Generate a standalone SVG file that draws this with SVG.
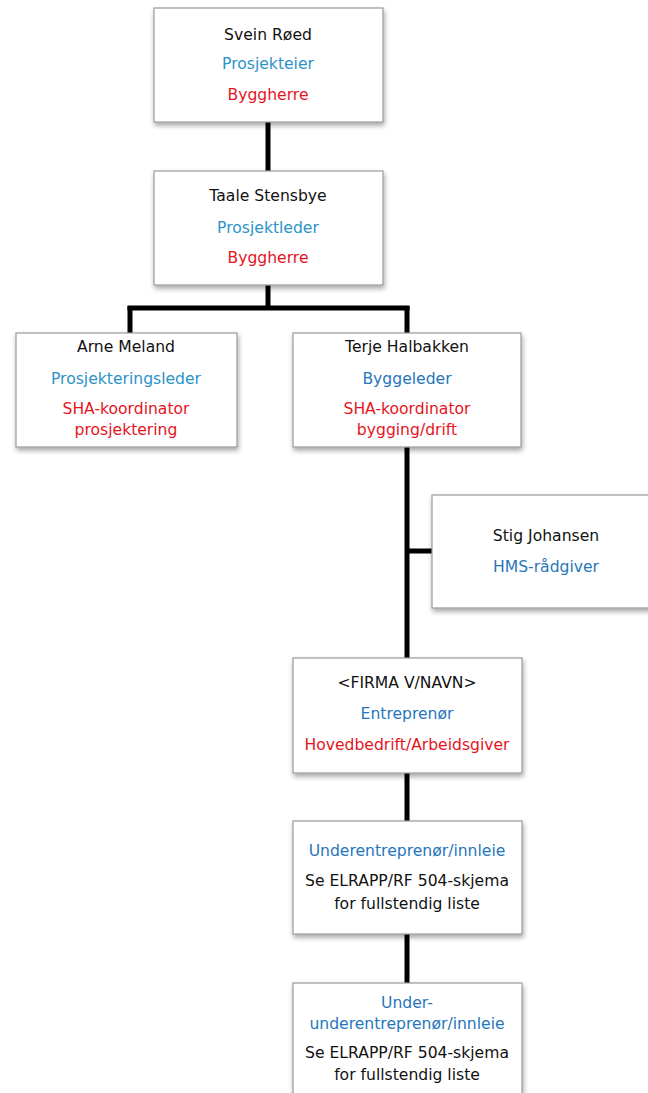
<svg xmlns="http://www.w3.org/2000/svg" width="648" height="1093" viewBox="0 0 648 1093">
<defs>
<filter id="sh" x="-10%" y="-10%" width="130%" height="130%">
<feDropShadow dx="1" dy="3" stdDeviation="2.5" flood-color="#000" flood-opacity="0.35"/>
</filter>
<style>
.box{fill:#fff;stroke:#9a9a9a;stroke-width:1.2;filter:url(#sh)}
text{font-family:"DejaVu Sans","Noto Sans",sans-serif;font-size:15.6px;text-anchor:middle}
.k{fill:#111}
.b1{fill:#2b93c6}
.b2{fill:#2676bb}
.r{fill:#e5141d}
.ln{stroke:#000;stroke-width:5;fill:none;stroke-linecap:butt}
</style>
</defs>
<rect width="648" height="1093" fill="#fff"/>
<g id="connectors">
<path class="ln" d="M268 122V171"/>
<path class="ln" d="M268 285V308"/>
<path class="ln" d="M127.5 308H409.5"/>
<path class="ln" d="M130 306V333"/>
<path class="ln" d="M407 306V333"/>
<path class="ln" d="M407 447V658"/>
<path class="ln" d="M407 551H432"/>
<path class="ln" d="M407 773V821"/>
<path class="ln" d="M407 934V983"/>
</g>
<g id="svein">
<rect class="box" x="154" y="8" width="229" height="114"/>
<text class="k" x="268" y="40">Svein Røed</text>
<text class="b1" x="268" y="69">Prosjekteier</text>
<text class="r" x="268" y="100">Byggherre</text>
</g>
<g id="taale">
<rect class="box" x="154" y="171" width="229" height="114"/>
<text class="k" x="268" y="201">Taale Stensbye</text>
<text class="b1" x="268" y="233">Prosjektleder</text>
<text class="r" x="268" y="263">Byggherre</text>
</g>
<g id="arne">
<rect class="box" x="16" y="333" width="221" height="114"/>
<text class="k" x="126" y="352">Arne Meland</text>
<text class="b1" x="126" y="384">Prosjekteringsleder</text>
<text class="r" x="126" y="414">SHA-koordinator</text>
<text class="r" x="126" y="435">prosjektering</text>
</g>
<g id="terje">
<rect class="box" x="293" y="333" width="228" height="114"/>
<text class="k" x="407" y="352">Terje Halbakken</text>
<text class="b2" x="407" y="384">Byggeleder</text>
<text class="r" x="407" y="414">SHA-koordinator</text>
<text class="r" x="407" y="435">bygging/drift</text>
</g>
<g id="stig">
<rect class="box" x="432" y="495" width="230" height="113"/>
<text class="k" x="546" y="541">Stig Johansen</text>
<text class="b2" x="546" y="572">HMS-rådgiver</text>
</g>
<g id="firma">
<rect class="box" x="293" y="658" width="229" height="115"/>
<text class="k" x="407" y="688">&lt;FIRMA V/NAVN&gt;</text>
<text class="b2" x="407" y="719">Entreprenør</text>
<text class="r" x="407" y="750">Hovedbedrift/Arbeidsgiver</text>
</g>
<g id="under">
<rect class="box" x="293" y="821" width="229" height="113"/>
<text class="b2" x="407" y="856">Underentreprenør/innleie</text>
<text class="k" x="407" y="886">Se ELRAPP/RF 504-skjema</text>
<text class="k" x="407" y="909">for fullstendig liste</text>
</g>
<g id="underunder">
<rect class="box" x="293" y="983" width="229" height="120"/>
<text class="b2" x="407" y="1008">Under-</text>
<text class="b2" x="407" y="1029">underentreprenør/innleie</text>
<text class="k" x="407" y="1058">Se ELRAPP/RF 504-skjema</text>
<text class="k" x="407" y="1080">for fullstendig liste</text>
</g>
</svg>
